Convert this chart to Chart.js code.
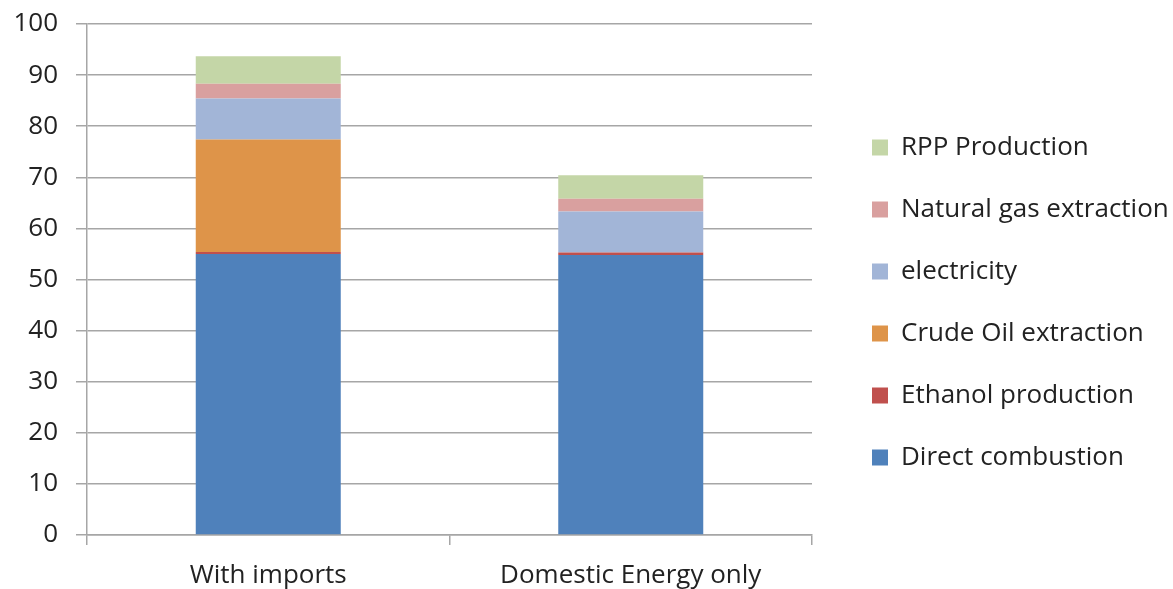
<!DOCTYPE html>
<html>
<head>
<meta charset="utf-8">
<script src="https://cdn.jsdelivr.net/npm/chart.js@4/dist/chart.umd.min.js"></script>
<style>
  html, body { margin: 0; padding: 0; background: #fff; }
  #wrap { width: 1173px; height: 589px; }
</style>
</head>
<body>
<div id="wrap"><canvas id="grafico"></canvas></div>
<script>
const categorias = ["With imports", "Domestic Energy only"]
const directCombustion = [55.0, 54.8]
const ethanolProduction = [0.4, 0.5]
const crudeOilExtraction = [22.0, 0]
const electricity = [8.0, 8.0]
const naturalGasExtraction = [2.9, 2.5]
const rppProduction = [5.4, 4.6]
const yTicks = [0, 10, 20, 30, 40, 50, 60, 70, 80, 90, 100]

const fuente = "'Open Sans', Lato, sans-serif"
const gris = "#a6a6a6"

const serie = (label, data, color) => ({
  label: label,
  data: data,
  backgroundColor: color,
  borderWidth: 0,
  barPercentage: 0.4,
  categoryPercentage: 1.0,
})

// sube un poco la leyenda para centrarla como en el original
const subirLeyenda = {
  id: "subirLeyenda",
  afterLayout: (chart) => {
    chart.legend.top -= 4
    chart.legend.bottom -= 4
  },
}

new Chart(document.getElementById("grafico"), {
  type: "bar",
  data: {
    labels: categorias,
    datasets: [
      serie("Direct combustion", directCombustion, "#4f81bb"),
      serie("Ethanol production", ethanolProduction, "#c0504d"),
      serie("Crude Oil extraction", crudeOilExtraction, "#de9449"),
      serie("electricity", electricity, "#a2b5d7"),
      serie("Natural gas extraction", naturalGasExtraction, "#d9a09f"),
      serie("RPP Production", rppProduction, "#c4d6a7"),
    ],
  },
  plugins: [subirLeyenda],
  options: {
    responsive: true,
    maintainAspectRatio: false,
    animation: false,
    layout: { padding: { top: 24, left: 0, right: 0, bottom: 0 } },
    plugins: {
      tooltip: { enabled: false },
      legend: {
        position: "right",
        reverse: true,
        maxWidth: 337,
        labels: {
          boxWidth: 16,
          boxHeight: 16,
          padding: 36,
          color: "#222",
          font: { family: fuente, size: 26 },
        },
      },
    },
    scales: {
      x: {
        stacked: true,
        grid: { drawOnChartArea: false, drawTicks: true, tickLength: 10, color: gris, lineWidth: 1.5 },
        border: { color: gris, width: 1.5 },
        ticks: { color: "#222", padding: 15, font: { family: fuente, size: 26 } },
        afterFit: (s) => { s.height = 54 },
      },
      y: {
        stacked: true,
        min: 0,
        max: 100,
        afterBuildTicks: (s) => { s.ticks = yTicks.map((v) => ({ value: v })) },
        grid: { color: gris, lineWidth: 1.5, tickLength: 11 },
        border: { color: gris, width: 1.5 },
        ticks: { color: "#222", padding: 18, font: { family: fuente, size: 26 } },
        afterFit: (s) => {
          s.width = 87
          s.paddingTop = 0
          s.paddingBottom = 0
        },
      },
      hueco: {
        type: "linear",
        position: "right",
        display: true,
        grid: { display: false },
        border: { display: false },
        ticks: { display: false },
        afterFit: (s) => { s.width = 24 },
      },
    },
  },
})
</script>
</body>
</html>
